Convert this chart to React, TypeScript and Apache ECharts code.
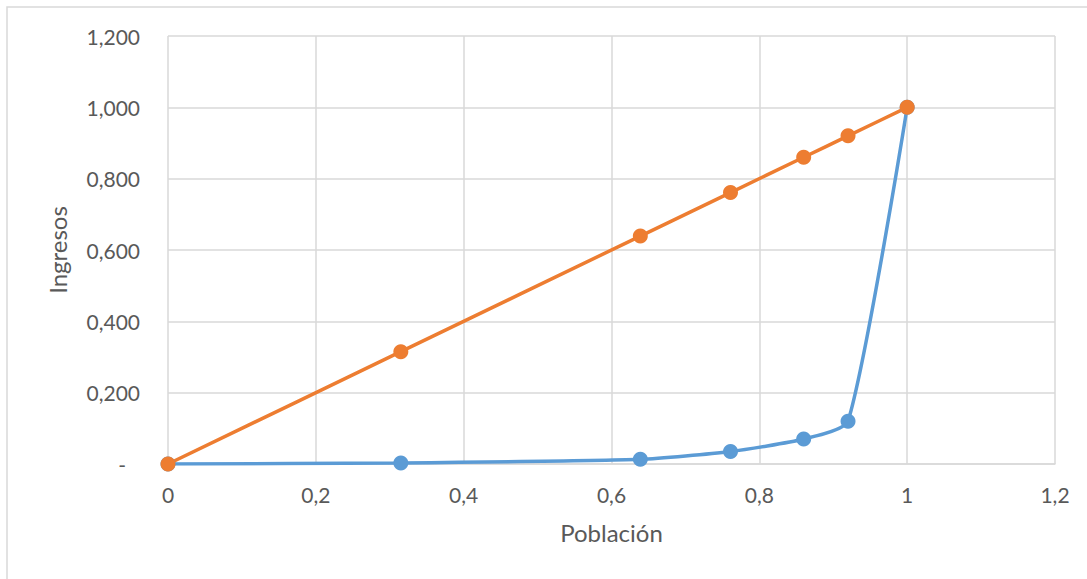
import React, { useEffect, useRef } from "react";
import * as echarts from "echarts";

const poblacion = [0, 0.315, 0.639, 0.761, 0.86, 0.92, 1];
const ingresosReal = [0, 0.003, 0.013, 0.035, 0.07, 0.12, 1];
const ingresosIgualdad = [0, 0.315, 0.639, 0.761, 0.86, 0.92, 1];

const FONT = "Lato, 'Open Sans', sans-serif";

export default function App() {
  const ref = useRef<HTMLDivElement>(null);
  useEffect(() => {
    if (!ref.current) return;
    const chart = echarts.init(ref.current, undefined, { renderer: "svg" });
    const toPairs = (ys: number[]) => poblacion.map((x, i) => [x, ys[i]]);
    chart.setOption({
      animation: false,
      backgroundColor: "#ffffff",
      textStyle: { fontFamily: FONT },
      graphic: [
        {
          type: "rect",
          shape: { x: 7, y: 7, width: 1200, height: 700 },
          style: { fill: "none", stroke: "#d9d9d9", lineWidth: 1.5 },
          silent: true,
        },
      ],
      grid: { left: 168, top: 36, right: 32, bottom: 115, containLabel: false },
      xAxis: {
        type: "value",
        min: 0,
        max: 1.2,
        interval: 0.2,
        name: "Población",
        nameLocation: "middle",
        nameGap: 56,
        nameTextStyle: { color: "#595959", fontSize: 24, fontFamily: FONT },
        axisLine: { show: true, lineStyle: { color: "#d9d9d9", width: 1.5 } },
        axisTick: { show: false },
        axisLabel: {
          color: "#595959",
          fontSize: 21,
          margin: 20,
          fontFamily: FONT,
          formatter: (v: number) => String(Math.round(v * 10) / 10).replace(".", ","),
        },
        splitLine: { show: true, lineStyle: { color: "#d9d9d9", width: 1.5 } },
      },
      yAxis: {
        type: "value",
        min: 0,
        max: 1.2,
        interval: 0.2,
        name: "Ingresos",
        nameLocation: "middle",
        nameGap: 99,
        nameRotate: 90,
        nameTextStyle: { color: "#595959", fontSize: 24, fontFamily: FONT },
        axisLine: { show: false },
        axisTick: { show: false },
        axisLabel: {
          color: "#595959",
          fontSize: 21,
          margin: 28,
          fontFamily: FONT,
          formatter: (v: number) => (v === 0 ? "{d|-}" : v.toFixed(3).replace(".", ",")),
          rich: { d: { color: "#595959", fontSize: 21, fontFamily: FONT, padding: [0, 14, 0, 0] } },
        },
        splitLine: { show: true, lineStyle: { color: "#d9d9d9", width: 1.5 } },
      },
      series: [
        {
          type: "line",
          data: toPairs(ingresosReal),
          smooth: 0.2,
          symbol: "circle",
          symbolSize: 15,
          lineStyle: { color: "#5B9BD5", width: 3.5 },
          itemStyle: { color: "#5B9BD5" },
        },
        {
          type: "line",
          data: toPairs(ingresosIgualdad),
          smooth: 0.2,
          symbol: "circle",
          symbolSize: 15,
          lineStyle: { color: "#ED7D31", width: 3.5 },
          itemStyle: { color: "#ED7D31" },
        },
      ],
    });
    return () => chart.dispose();
  }, []);
  return (
    <div
      ref={ref}
      style={{ position: "absolute", left: 0, top: 0, width: 1087, height: 579 }}
    />
  );
}
